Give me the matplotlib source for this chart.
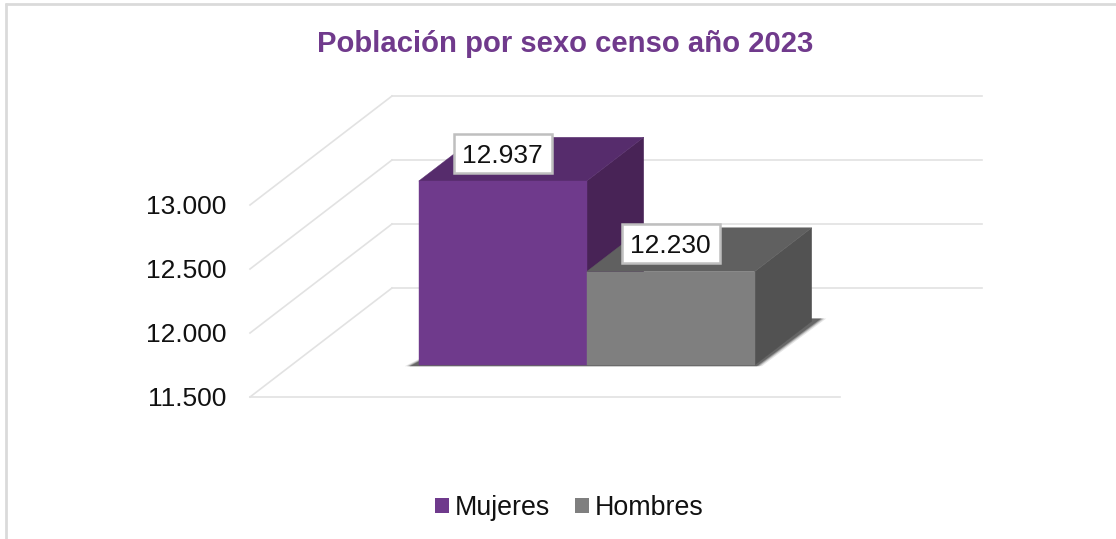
"""Poblacion por sexo, censo 2023: fake-3D column chart."""
import matplotlib
matplotlib.use("Agg")
import matplotlib.pyplot as plt
from matplotlib.lines import Line2D
from matplotlib.patches import Patch, Polygon, Rectangle
from matplotlib.transforms import ScaledTranslation

categories = ["Mujeres", "Hombres"]
values = [12937, 12230]
value_labels = ["12.937", "12.230"]
y_ticks = [11500, 12000, 12500, 13000]
y_tick_labels = ["11.500", "12.000", "12.500", "13.000"]
title = "Población por sexo censo año 2023"

W, H = 1116, 539
PURPLE = ("#6F3A8C", "#562C6C", "#482356")
GREY = ("#7F7F7F", "#606060", "#525252")
bar_colors = [PURPLE, GREY]

plt.rcParams["font.family"] = ["Liberation Sans", "DejaVu Sans"]

# plot box in pixels, x data is simply pixels along the frontal plane
L, R, T, B = 250, 984, 97, 397
PX_PER_VAL = 0.128
Y0 = 11500
DEPTH_X, DEPTH_PX = 142, 109
DEPTH_Y = DEPTH_PX / PX_PER_VAL
FRONT_W = 590
BAR_X0 = 377
BAR_W = 168
D_FRONT, D_BACK = 0.294, 0.695


def proj(x, v, d=0.0):
    return x + d * DEPTH_X, v + d * DEPTH_Y


fig = plt.figure(figsize=(W / 100, H / 100), dpi=100)
ax = fig.add_axes([L / W, 1 - B / H, (R - L) / W, (B - T) / H])
ax.set_xlim(L, R)
ax.set_ylim(Y0, Y0 + (B - T) / PX_PER_VAL)
for s in ax.spines.values():
    s.set_visible(False)
ax.set_xticks([])
ax.set_yticks(y_ticks)
ax.set_yticklabels(y_tick_labels, fontsize=19, color="#111111")
ax.tick_params(axis="y", length=0, pad=17)
up = ScaledTranslation(0, 1 / 100, fig.dpi_scale_trans)
for lab in ax.get_yticklabels():
    lab.set_transform(lab.get_transform() + up)

# outer frame, open on the right and the bottom
frame = dict(color="#DADADA", lw=2, transform=fig.transFigure, solid_capstyle="butt")
fig.add_artist(Line2D([5 / W, 1], [1 - 4 / H] * 2, **frame))
fig.add_artist(Line2D([5.5 / W] * 2, [0, 1 - 3 / H], **frame))

# walls
grid = dict(color="#E2E2E2", lw=1.2, zorder=1, clip_on=False)
for t in y_ticks:
    ax.plot(*zip(proj(L, t), proj(L, t, 1)), **grid)
    ax.plot(*zip(proj(L, t, 1), proj(L + FRONT_W, t, 1)), **grid)
ax.plot(*zip(proj(L, Y0), proj(L + FRONT_W, Y0)), **grid)

# soft shadow on the floor
x_end = BAR_X0 + BAR_W * len(values)
for grow, alpha in [(5, 0.12), (3, 0.2), (1.5, 0.3), (0, 0.45)]:
    shadow = [proj(BAR_X0 - 9 - grow, Y0 - 10, D_FRONT), proj(x_end + 2 + grow, Y0 - 10, D_FRONT),
              proj(x_end + 6 + grow, Y0, 0.72), proj(BAR_X0 + 20, Y0, 0.72)]
    ax.add_patch(Polygon(shadow, closed=True, fc="#303030", ec="none", alpha=alpha, zorder=2))

# bars, left one first so the right one covers its side
for i, (val, cols) in enumerate(zip(values, bar_colors)):
    x0 = BAR_X0 + i * BAR_W
    x1 = x0 + BAR_W
    front = [proj(x0, Y0, D_FRONT), proj(x1, Y0, D_FRONT), proj(x1, val, D_FRONT), proj(x0, val, D_FRONT)]
    top = [proj(x0, val, D_FRONT), proj(x1, val, D_FRONT), proj(x1, val, D_BACK), proj(x0, val, D_BACK)]
    side = [proj(x1, Y0, D_FRONT), proj(x1, Y0, D_BACK), proj(x1, val, D_BACK), proj(x1, val, D_FRONT)]
    z = 3 + i
    ax.add_patch(Polygon(side, closed=True, fc=cols[2], ec=cols[2], lw=0.3, zorder=z))
    ax.add_patch(Polygon(top, closed=True, fc=cols[1], ec=cols[1], lw=0.3, zorder=z))
    ax.add_patch(Polygon(front, closed=True, fc=cols[0], ec=cols[0], lw=0.3, zorder=z))

# value labels, box drawn apart so the digits sit centred in it
BOX_W, BOX_H, BOX_UP = 98, 39, 28
for i, (val, lab) in enumerate(zip(values, value_labels)):
    xc, yc = proj(BAR_X0 + (i + 0.5) * BAR_W, val, D_FRONT)
    yc += BOX_UP / PX_PER_VAL
    ax.add_patch(Rectangle((xc - BOX_W / 2, yc - BOX_H / 2 / PX_PER_VAL), BOX_W, BOX_H / PX_PER_VAL,
                           fc="white", ec="#BFBFBF", lw=1.8, zorder=9))
    ax.text(xc, yc, lab, ha="center", va="center_baseline", fontsize=19, color="#111111", zorder=10)

fig.text(565 / W, 1 - 44 / H, title, ha="center", va="center",
         fontsize=21.1, fontweight="bold", color="#703A8C")

handles = [Patch(fc=c[0], ec="none") for c in bar_colors]
fig.legend(handles, categories, loc="center", bbox_to_anchor=(569 / W, 1 - 508 / H),
           ncol=2, frameon=False, fontsize=19.3, labelcolor="#111111",
           handlelength=0.52, handleheight=0.52, handletextpad=0.22, columnspacing=0.93)

fig.savefig("out.png", dpi=100)
